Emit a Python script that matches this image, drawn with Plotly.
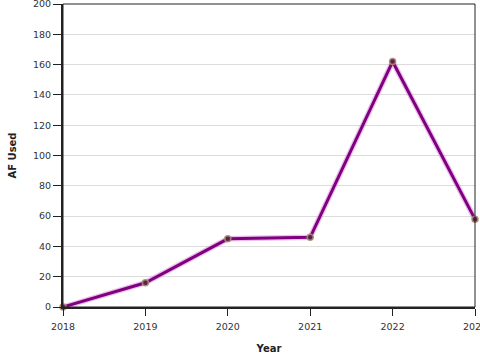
import plotly.graph_objects as go

years = [2018, 2019, 2020, 2021, 2022, 2023]
af_used = [0, 16, 45, 46, 162, 58]
y_ticks = [0, 20, 40, 60, 80, 100, 120, 140, 160, 180, 200]

font_family = "DejaVu Sans"

fig = go.Figure()
# soft shadow under the line
fig.add_trace(go.Scatter(
    x=years, y=af_used, mode="lines",
    line=dict(color="rgba(215,130,215,0.5)", width=5.5),
    hoverinfo="skip", showlegend=False, cliponaxis=False,
))
fig.add_trace(go.Scatter(
    x=years, y=af_used, mode="lines+markers",
    line=dict(color="#800080", width=3),
    marker=dict(size=6, color="#5a2448", line=dict(color="rgba(170,140,120,0.9)", width=1.5)),
    showlegend=False, cliponaxis=False,
))

fig.update_layout(
    width=480, height=360,
    margin=dict(l=63, r=5, t=4, b=53),
    paper_bgcolor="white", plot_bgcolor="white",
    font=dict(family=font_family, size=10, color="#333"),
    xaxis=dict(
        range=[2018, 2023], tickvals=years, ticktext=[str(y) for y in years],
        showgrid=False, zeroline=False,
        showline=True, linecolor="#222", linewidth=2,
        ticks="outside", ticklen=7, tickcolor="#222", ticklabelstandoff=3,
        tickfont=dict(size=9.5), ticklabeloverflow="allow", automargin=False,
        title=dict(text="<b>Year</b>", font=dict(size=10, color="#222"), standoff=14),
    ),
    yaxis=dict(
        range=[0, 200], tickvals=y_ticks,
        showgrid=True, gridcolor="#dcdcdc", gridwidth=1, zeroline=False,
        showline=True, linecolor="#222", linewidth=2,
        ticks="outside", ticklen=8, tickcolor="#222",
        tickfont=dict(size=9.5), ticklabeloverflow="allow", automargin=False,
        title=dict(text="<b>AF Used</b>", font=dict(size=10, color="#222"), standoff=14),
    ),
    shapes=[dict(type="rect", xref="paper", yref="paper", x0=0, y0=0, x1=1, y1=1,
                 line=dict(color="#222", width=1), layer="above")],
)

fig.write_html("out.html", config={"displayModeBar": False})

# remove the default page margin so the figure sits at the window's top-left corner
with open("out.html", "r", encoding="utf-8") as f:
    html = f.read()
html = html.replace("<head>", "<head><style>html,body{margin:0;padding:0;overflow:hidden;}</style>", 1)
with open("out.html", "w", encoding="utf-8") as f:
    f.write(html)
